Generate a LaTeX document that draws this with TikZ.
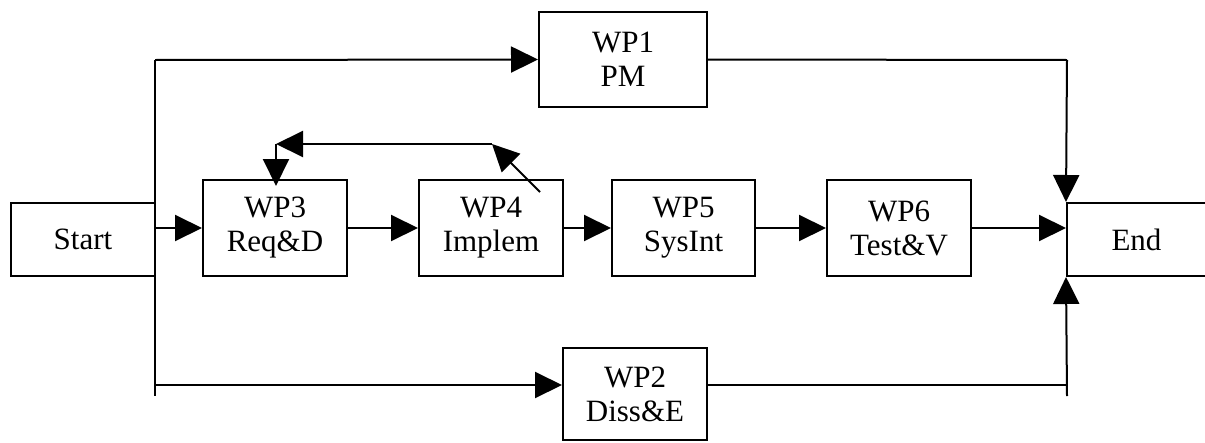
\documentclass[tikz,border=0pt]{standalone}
\usepackage{fontspec}
\setmainfont{Liberation Serif}
\usetikzlibrary{arrows.meta}
\begin{document}
\begin{tikzpicture}[x=1pt,y=-1pt,
  box/.style={draw, line width=2pt, inner sep=0pt, align=center,
    font=\fontsize{31}{34}\selectfont},
  wire/.style={line width=2pt},
  arr/.style={wire, -{Triangle[length=27pt,width=26pt]}}]
\useasboundingbox (0,0) rectangle (1205,442);
% nodes
\node[box, minimum width=144pt, minimum height=73pt] (start) at (83,239.5) {Start};
\node[box, minimum width=144pt, minimum height=96pt] (wp3) at (275,228) {WP3\\Req\&D};
\node[box, minimum width=144pt, minimum height=96pt] (wp4) at (491,228) {WP4\\Implem};
\node[box, minimum width=143pt, minimum height=96pt] (wp5) at (683.5,228) {WP5\\SysInt};
\node[box, minimum width=144pt, minimum height=96pt] (wp6) at (899,228) {WP6\\Test\&V};
\node[box, minimum width=168pt, minimum height=95pt] (wp1) at (623,59.5) {WP1\\PM};
\node[box, minimum width=144pt, minimum height=92pt] (wp2) at (635,394) {WP2\\Diss\&E};
\node[box, minimum width=139pt, minimum height=73pt] (end) at (1136.5,239.5) {End};
% coordinates
\coordinate (ttop) at (155,60);
\coordinate (tbot) at (155,396);
\coordinate (tlow) at (155,385);
\coordinate (rtop) at (1067,60);
\coordinate (rlow) at (1067,385);
\coordinate (rbot) at (1067,396);
\coordinate (fbr) at (492,144);
\coordinate (fbl) at (276,144);
\coordinate (fbd) at (276,186);
\coordinate (fbs) at (540,192);
% trunk
\draw[wire] (ttop) -- (tbot);
\draw[arr] (ttop) -- (wp1.west);
\draw[arr] (tlow) -- (wp2.west |- tlow);
\draw[wire] (wp1.east) -- (rtop);
\draw[arr] (rtop) -- (end.north west);
\draw[wire] (wp2.east |- rlow) -- (rlow);
\draw[arr] (rbot) -- (end.south west);
% main chain
\draw[arr] (start.east |- wp3.west) -- (wp3.west);
\draw[arr] (wp3.east) -- (wp4.west);
\draw[arr] (wp4.east) -- (wp5.west);
\draw[arr] (wp5.east) -- (wp6.west);
\draw[arr] (wp6.east) -- (end.west |- wp6.east);
% feedback
\draw[arr] (fbs) -- (fbr);
\draw[arr] (fbr) -- (fbl);
\draw[arr] (fbl) -- (fbd);
\end{tikzpicture}
\end{document}
